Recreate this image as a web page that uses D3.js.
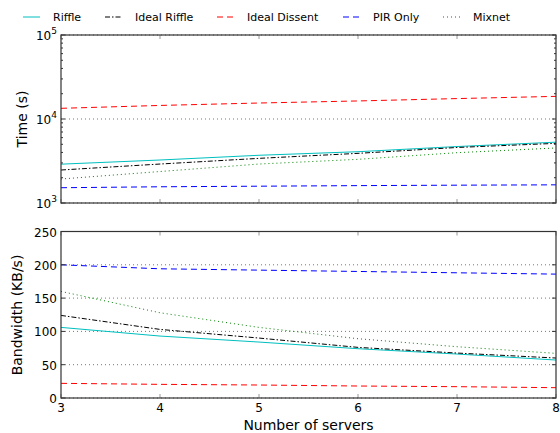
<!DOCTYPE html>
<html>
<head>
<meta charset="utf-8">
<script src="https://cdn.jsdelivr.net/npm/d3@7"></script>
<style>
  body { margin: 0; background: #fff; }
  svg { font-family: "DejaVu Sans", sans-serif; }
</style>
</head>
<body>
<svg id="chart" width="560" height="433"></svg>
<script>
var servers = [3, 4, 5, 6, 7, 8];

var timeRiffle      = [2900, 3250, 3700, 4080, 4700, 5300];
var timeIdealRiffle = [2470, 2910, 3400, 3900, 4580, 5130];
var timeDissent     = [13400, 14500, 15500, 16400, 17500, 18600];
var timePIR         = [1520, 1560, 1585, 1610, 1630, 1645];
var timeMixnet      = [1930, 2370, 2910, 3310, 3970, 4520];

var bwRiffle      = [106, 93, 84, 74, 66, 57];
var bwIdealRiffle = [124, 103, 90, 76, 67.5, 60];
var bwDissent     = [22, 20.5, 19.5, 18, 17, 15.5];
var bwPIR         = [200, 194, 192, 190, 188, 186];
var bwMixnet      = [160, 128, 106, 89, 77, 67];

var xTicks = [3, 4, 5, 6, 7, 8];
var bwTicks = [0, 50, 100, 150, 200, 250];
var timeTicks = [1e3, 1e4, 1e5];

var series = [
  {name: 'Riffle', color: '#00bfbf', dash: null, time: timeRiffle, bw: bwRiffle},
  {name: 'Ideal Riffle', color: '#000', dash: '5,2,1.5,2', time: timeIdealRiffle, bw: bwIdealRiffle},
  {name: 'Ideal Dissent', color: '#ff0000', dash: '6,4', time: timeDissent, bw: bwDissent},
  {name: 'PIR Only', color: '#0000ff', dash: '6,4', time: timePIR, bw: bwPIR},
  {name: 'Mixnet', color: '#008000', dash: '1,3', time: timeMixnet, bw: bwMixnet}
];

var svg = d3.select('#chart');
var left = 61, right = 556;

var x = d3.scaleLinear().domain([3, 8]).range([left, right]);
var yTime = d3.scaleLog().domain([1e3, 1e5]).range([203, 35]);
var yBw = d3.scaleLinear().domain([0, 250]).range([398, 231.5]);

function panel(y, key, isLog){
  var g = svg.append('g');
  var r = y.range();

  // dotted grid lines
  var grid = isLog ? timeTicks : bwTicks;
  g.selectAll('.grid').data(grid).enter().append('line')
    .attr('x1', left).attr('x2', right)
    .attr('y1', function(d){ return y(d); })
    .attr('y2', function(d){ return y(d); })
    .attr('stroke', '#777')
    .attr('stroke-width', 1)
    .attr('stroke-dasharray', '1,3');

  var line = d3.line()
    .x(function(d, i){ return x(servers[i]); })
    .y(function(d){ return y(d); });

  g.selectAll('.series').data(series).enter().append('path')
    .attr('d', function(s){ return line(s[key]); })
    .attr('fill', 'none')
    .attr('stroke', function(s){ return s.color; })
    .attr('stroke-width', 1)
    .attr('stroke-dasharray', function(s){ return s.dash; });

  // ticks inward
  var ticks = [];
  if(isLog){
    for(var e = 3; e < 5; e++){
      for(var m = 1; m < 10; m++){
        ticks.push({v: m * Math.pow(10, e), major: m == 1});
      }
    }
    ticks.push({v: 1e5, major: true});
  } else {
    bwTicks.forEach(function(v){ ticks.push({v: v, major: true}); });
  }
  g.selectAll('.ytl').data(ticks).enter().append('line')
    .attr('x1', left).attr('x2', function(d){ return left + (d.major ? 4 : 2); })
    .attr('y1', function(d){ return y(d.v); }).attr('y2', function(d){ return y(d.v); })
    .attr('stroke', '#333');
  g.selectAll('.ytr').data(ticks).enter().append('line')
    .attr('x1', right).attr('x2', function(d){ return right - (d.major ? 4 : 2); })
    .attr('y1', function(d){ return y(d.v); }).attr('y2', function(d){ return y(d.v); })
    .attr('stroke', '#333');
  g.selectAll('.xtb').data(xTicks).enter().append('line')
    .attr('x1', function(d){ return x(d); }).attr('x2', function(d){ return x(d); })
    .attr('y1', r[0]).attr('y2', r[0] - 4)
    .attr('stroke', '#999');
  g.selectAll('.xtt').data(xTicks).enter().append('line')
    .attr('x1', function(d){ return x(d); }).attr('x2', function(d){ return x(d); })
    .attr('y1', r[1]).attr('y2', r[1] + 4)
    .attr('stroke', '#999');

  g.append('rect')
    .attr('x', left).attr('y', r[1])
    .attr('width', right - left).attr('height', r[0] - r[1])
    .attr('fill', 'none')
    .attr('stroke', '#333')
    .attr('stroke-width', 1.2);

  // y tick labels
  if(isLog){
    timeTicks.forEach(function(v){
      var t = g.append('text')
        .attr('x', left - 4).attr('y', y(v) + 5)
        .attr('text-anchor', 'end')
        .attr('font-size', 12);
      t.append('tspan').text('10');
      t.append('tspan').attr('font-size', 9).attr('dy', -6).text(Math.round(Math.log10(v)));
    });
  } else {
    g.selectAll('.ylab').data(bwTicks).enter().append('text')
      .attr('x', left - 4).attr('y', function(d){ return y(d) + 5; })
      .attr('text-anchor', 'end')
      .attr('font-size', 12)
      .text(function(d){ return d; });
  }
  return g;
}

panel(yTime, 'time', true);
var bottom = panel(yBw, 'bw', false);

bottom.selectAll('.xlab').data(xTicks).enter().append('text')
  .attr('x', function(d){ return x(d); })
  .attr('y', 412)
  .attr('text-anchor', 'middle')
  .attr('font-size', 12)
  .text(function(d){ return d; });

svg.append('text')
  .attr('x', (left + right) / 2).attr('y', 430)
  .attr('text-anchor', 'middle')
  .attr('font-size', 14)
  .text('Number of servers');

svg.append('text')
  .attr('transform', 'translate(27,119) rotate(-90)')
  .attr('text-anchor', 'middle')
  .attr('font-size', 14)
  .text('Time (s)');

svg.append('text')
  .attr('transform', 'translate(22,315) rotate(-90)')
  .attr('text-anchor', 'middle')
  .attr('font-size', 14)
  .text('Bandwidth (KB/s)');

// legend
var legendX = [23, 105, 217, 343, 443];
var legend = svg.append('g');
series.forEach(function(s, i){
  legend.append('line')
    .attr('x1', legendX[i]).attr('x2', legendX[i] + 17)
    .attr('y1', 17).attr('y2', 17)
    .attr('stroke', s.color)
    .attr('stroke-width', 1)
    .attr('stroke-dasharray', s.dash);
  legend.append('text')
    .attr('x', legendX[i] + 30).attr('y', 21)
    .attr('font-size', 11)
    .text(s.name);
});
</script>
</body>
</html>
